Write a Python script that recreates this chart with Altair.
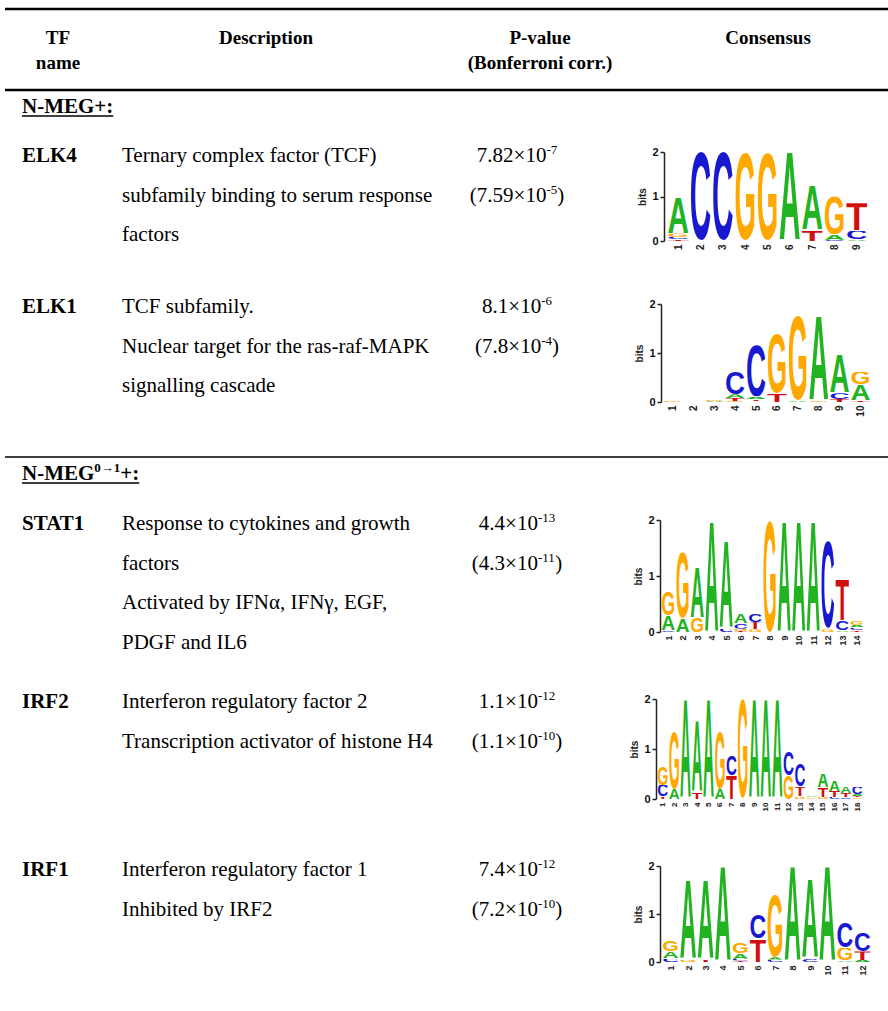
import base64
import altair as alt
import pandas as pd

# ------------------------------------------------------------------ data
HEADER_LINES = [["TF", "name"], ["Description"], ["P-value", "(Bonferroni corr.)"], ["Consensus"]]
SECTION_MAIN = ["N-MEG", "N-MEG"]
SECTION_SUP = ["", "0\u21921"]
SECTION_TAIL = ["+:", "+:"]
TF_NAMES = ["ELK4", "ELK1", "STAT1", "IRF2", "IRF1"]
DESCRIPTIONS = [
    ["Ternary complex factor (TCF)", "subfamily binding to serum response", "factors"],
    ["TCF subfamily.", "Nuclear target for the ras-raf-MAPK", "signalling cascade"],
    ["Response to cytokines and growth", "factors", "Activated by IFN\u03b1, IFN\u03b3, EGF,", "PDGF and IL6"],
    ["Interferon regulatory factor 2", "Transcription activator of histone H4"],
    ["Interferon regulatory factor 1", "Inhibited by IRF2"],
]
P_MANT = ["7.82", "8.1", "4.4", "1.1", "7.4"]
P_EXP = ["-7", "-6", "-13", "-12", "-12"]
PC_MANT = ["7.59", "7.8", "4.3", "1.1", "7.2"]
PC_EXP = ["-5", "-4", "-11", "-10", "-10"]
BITS_TICKS = [0, 1, 2]

# sequence logos: per position, letters bottom -> top with height in bits
LOGO_ELK4 = [
    [("T", 0.04), ("C", 0.05), ("G", 0.08), ("A", 0.80)],
    [("C", 2.0)],
    [("C", 2.0)],
    [("G", 1.98)],
    [("G", 1.97)],
    [("A", 2.0)],
    [("T", 0.25), ("A", 1.02)],
    [("C", 0.03), ("A", 0.12), ("G", 0.88)],
    [("A", 0.03), ("C", 0.20), ("T", 0.62)],
]
LOGO_ELK1 = [
    [("G", 0.02)],
    [("G", 0.005)],
    [("A", 0.02), ("G", 0.03)],
    [("G", 0.02), ("T", 0.06), ("A", 0.08), ("C", 0.47)],
    [("G", 0.01), ("T", 0.04), ("A", 0.06), ("C", 1.05)],
    [("T", 0.17), ("G", 1.23)],
    [("A", 0.03), ("G", 1.75)],
    [("G", 0.03), ("A", 1.73)],
    [("T", 0.06), ("C", 0.12), ("A", 0.79)],
    [("T", 0.03), ("A", 0.33), ("G", 0.26)],
]
LOGO_STAT1 = [
    [("C", 0.03), ("A", 0.27), ("G", 0.43)],
    [("A", 0.24), ("G", 1.18)],
    [("G", 0.25), ("A", 0.90)],
    [("A", 2.0)],
    [("C", 0.06), ("A", 1.57)],
    [("T", 0.02), ("G", 0.04), ("C", 0.10), ("A", 0.17)],
    [("G", 0.05), ("T", 0.13), ("C", 0.14)],
    [("G", 2.0)],
    [("A", 2.0)],
    [("A", 2.0)],
    [("A", 2.0)],
    [("G", 0.05), ("C", 1.57)],
    [("A", 0.03), ("C", 0.17), ("T", 0.73)],
    [("T", 0.03), ("C", 0.05), ("A", 0.05), ("G", 0.07)],
]
LOGO_IRF2 = [
    [("T", 0.05), ("C", 0.23), ("G", 0.37)],
    [("A", 0.20), ("G", 1.15)],
    [("A", 2.0)],
    [("T", 0.12), ("A", 1.45)],
    [("A", 2.0)],
    [("A", 0.20), ("G", 1.15)],
    [("T", 0.47), ("C", 0.41)],
    [("G", 2.0)],
    [("A", 2.0)],
    [("A", 2.0)],
    [("A", 2.0)],
    [("G", 0.47), ("C", 0.48)],
    [("G", 0.05), ("T", 0.20), ("C", 0.45)],
    [("G", 0.03), ("A", 0.03)],
    [("G", 0.04), ("T", 0.19), ("A", 0.28)],
    [("C", 0.04), ("T", 0.12), ("A", 0.21)],
    [("C", 0.03), ("T", 0.09), ("A", 0.14)],
    [("G", 0.03), ("T", 0.03), ("A", 0.04), ("C", 0.15)],
]
LOGO_IRF1 = [
    [("C", 0.07), ("A", 0.15), ("G", 0.23)],
    [("G", 0.04), ("A", 1.68)],
    [("T", 0.05), ("A", 1.67)],
    [("A", 2.0)],
    [("T", 0.03), ("C", 0.04), ("A", 0.12), ("G", 0.21)],
    [("T", 0.48), ("C", 0.50)],
    [("C", 0.05), ("A", 0.05), ("G", 1.30)],
    [("A", 2.0)],
    [("C", 0.06), ("A", 1.66)],
    [("A", 2.0)],
    [("A", 0.03), ("G", 0.27), ("C", 0.52)],
    [("A", 0.04), ("T", 0.18), ("C", 0.39)],
]
LOGOS = [LOGO_ELK4, LOGO_ELK1, LOGO_STAT1, LOGO_IRF2, LOGO_IRF1]

# ------------------------------------------------------------------ layout / style
W, H = 888, 1011
SERIF = "Liberation Serif"
SANS = "Liberation Sans"
FS = 21
HFS = 19
SUP_FS = 13
NAME_X = 22
DESC_X = 122
P_CENTER = 517
HEADER_X = [58, 266, 540, 768]
HEADER_Y = [38, 63]
TABLE_RULES = [(9, 2.5), (90, 2.5), (457, 1.5)]
SECTION_Y = [106, 473]
ROW_Y = [155, 306, 523, 701, 869]
LINE_GAP = 39.5
BASE_SHIFT = 7          # line centre -> alphabetic baseline
SUP_RAISE = 8
# axis x, y of 0 bits, y of 2 bits, first column left, last column right, label size
LOGO_BOX = [
    (664, 241, 152, 667, 868, 10),
    (661, 402, 304, 662, 871, 10),
    (660, 632, 520, 661, 864, 9),
    (656, 799, 699, 657, 863, 8),
    (660, 962, 866, 662, 871, 9),
]
COLORS = {"A": "#22b322", "C": "#1818d0", "G": "#ffa800", "T": "#d01010"}

REG = {c: 0.5 for c in "0123456789"}
REG.update({".": 0.25, "\u00d7": 0.564, "(": 0.333, ")": 0.333, "-": 0.333})
BOLD = {"N": 0.722, "-": 0.333, "M": 0.944, "E": 0.667, "G": 0.778, "+": 0.570,
        ":": 0.333, "0": 0.5, "1": 0.5, "\u2192": 1.0}


def tw(s, table):
    return sum(table.get(c, 0.5) for c in s)


# ------------------------------------------------------------------ build tables
bold_center, bold_left, reg_left, rules = [], [], [], []

for x, lines in zip(HEADER_X, HEADER_LINES):
    for i, t in enumerate(lines):
        bold_center.append(dict(x=x, y=HEADER_Y[i] + BASE_SHIFT - 1, t=t, s=HFS))

for y, w in TABLE_RULES:
    rules.append(dict(x=5, x2=W, y=y, w=w))

for k, (m, sp, tl) in enumerate(zip(SECTION_MAIN, SECTION_SUP, SECTION_TAIL)):
    base = SECTION_Y[k] + BASE_SHIFT
    x = NAME_X
    bold_left.append(dict(x=x, y=base, t=m, s=FS))
    x += tw(m, BOLD) * FS
    if sp:
        bold_left.append(dict(x=x, y=base - SUP_RAISE, t=sp, s=SUP_FS))
        x += tw(sp, BOLD) * SUP_FS
    bold_left.append(dict(x=x, y=base, t=tl, s=FS))
    x += tw(tl, BOLD) * FS
    rules.append(dict(x=NAME_X, x2=x, y=base + 3, w=1.5))

for r, name in enumerate(TF_NAMES):
    y0 = ROW_Y[r]
    bold_left.append(dict(x=NAME_X, y=y0 + BASE_SHIFT, t=name, s=FS))
    for i, line in enumerate(DESCRIPTIONS[r]):
        reg_left.append(dict(x=DESC_X, y=y0 + i * LINE_GAP + BASE_SHIFT, t=line, s=FS))
    for i, (mant, ex, paren) in enumerate([(P_MANT[r], P_EXP[r], False), (PC_MANT[r], PC_EXP[r], True)]):
        main = ("(" if paren else "") + mant + "\u00d710"
        tail = ")" if paren else ""
        wm, ws, wt = tw(main, REG) * FS, tw(ex, REG) * SUP_FS, tw(tail, REG) * FS
        x = P_CENTER - (wm + ws + wt) / 2
        base = y0 + i * LINE_GAP + BASE_SHIFT
        reg_left.append(dict(x=x, y=base, t=main, s=FS))
        reg_left.append(dict(x=x + wm, y=base - SUP_RAISE, t=ex, s=SUP_FS))
        if tail:
            reg_left.append(dict(x=x + wm + ws, y=base, t=tail, s=FS))


def text_layer(rows, weight, align):
    return alt.Chart(pd.DataFrame(rows)).mark_text(
        font=SERIF, fontWeight=weight, align=align, baseline="alphabetic", color="#000"
    ).encode(
        x=alt.X("x:Q", scale=None, axis=None),
        y=alt.Y("y:Q", scale=None, axis=None),
        text="t:N",
        size=alt.Size("s:Q", scale=None, legend=None),
    )


rule_layer = alt.Chart(pd.DataFrame(rules)).mark_rule(color="#000").encode(
    x=alt.X("x:Q", scale=None, axis=None),
    x2="x2:Q",
    y=alt.Y("y:Q", scale=None, axis=None),
    strokeWidth=alt.StrokeWidth("w:Q", scale=None, legend=None),
)


def letter_url(ch):
    svg = (
        "<svg xmlns='http://www.w3.org/2000/svg' width='100' height='72' "
        "viewBox='0 -70.5 100 72' preserveAspectRatio='none'>"
        "<text x='0' y='0' font-family='Liberation Sans, Arial, sans-serif' font-weight='700' "
        "font-size='100' textLength='100' lengthAdjust='spacingAndGlyphs' "
        f"fill='{COLORS[ch]}'>{ch}</text></svg>"
    )
    return "data:image/svg+xml;base64," + base64.b64encode(svg.encode()).decode()


def logo_layer(cols, box):
    ax, y0, y2, xs, xe, lfs = box
    n = len(cols)
    rows = []
    for i, col in enumerate(cols, start=1):
        b = 0.0
        for ch, h in col:
            rows.append(dict(p0=i - 0.48, p1=i + 0.48, b0=b, b1=b + h, url=letter_url(ch)))
            b += h
    df = pd.DataFrame(rows)
    xaxis = alt.Axis(
        orient="bottom", offset=(y0 + 1) - H, values=list(range(1, n + 1)), format="d",
        labelAngle=-90, labelFont=SANS, labelFontWeight="bold", labelFontSize=lfs,
        labelColor="#222", labelPadding=2, labelFlush=False, labelOverlap=False,
        ticks=False, domain=False, grid=False, title=None,
    )
    yaxis = alt.Axis(
        orient="left", offset=-ax, values=BITS_TICKS, format=".0f",
        labelFont=SANS, labelFontSize=11, labelFontWeight="bold", labelColor="#111",
        labelPadding=2,
        tickSize=4, tickColor="#222", tickWidth=1.5,
        domainColor="#222", domainWidth=1.5,
        title="bits", titleFont=SANS, titleFontSize=10, titleFontWeight="bold",
        titleColor="#222", titlePadding=4,
    )
    return alt.Chart(df).mark_image(aspect=False).encode(
        x=alt.X("p0:Q", scale=alt.Scale(domain=[0.5, n + 0.5], range=[xs, xe], nice=False, zero=False), axis=xaxis),
        x2="p1:Q",
        y=alt.Y("b0:Q", scale=alt.Scale(domain=[0, 2], range=[y0, y2], nice=False, zero=False), axis=yaxis),
        y2="b1:Q",
        url="url:N",
    )


layers = [
    rule_layer,
    text_layer(bold_center, "bold", "center"),
    text_layer(bold_left, "bold", "left"),
    text_layer(reg_left, "normal", "left"),
] + [logo_layer(c, b) for c, b in zip(LOGOS, LOGO_BOX)]

chart = alt.layer(*layers).resolve_scale(
    x="independent", y="independent"
).properties(
    width=W, height=H, autosize="none", padding=0, background="white"
).configure_view(stroke=None).configure_axisY(grid=False).configure_axisX(grid=False)

chart.save("out.html", embed_options={"renderer": "svg", "actions": False})
